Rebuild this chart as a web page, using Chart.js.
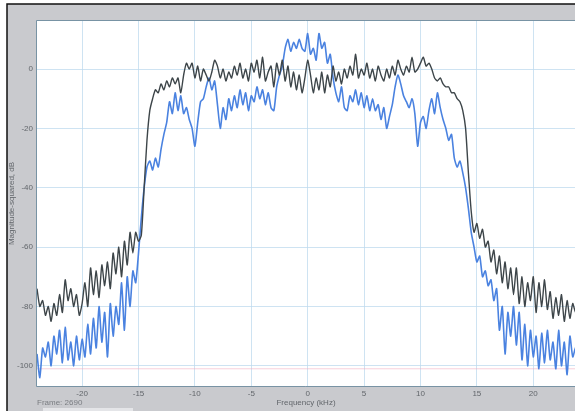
<!DOCTYPE html>
<html>
<head>
<meta charset="utf-8">
<script src="https://cdn.jsdelivr.net/npm/chart.js@4/dist/chart.umd.min.js"></script>
<style>
  html, body { margin: 0; padding: 0; background: #fff; overflow: hidden; }
  #wrap { width: 575px; height: 411px; position: relative; }
</style>
</head>
<body>
<div id="wrap"><canvas id="spec"></canvas></div>
<script>
// frequency grid of the spectrum (kHz)
const freqStart = -24;
const freqStep = 0.25;

// black trace, one row per kHz (k, k+.25, k+.5, k+.75), dB
const blackTrace = [
  -74, -80, -78, -83,
  -80, -85, -79, -83,
  -76, -82, -71, -78,
  -74, -80, -76, -83,
  -79, -72, -80, -67,
  -76, -68, -77, -66,
  -73, -65, -74, -62,
  -69, -60, -70, -58,
  -66, -55, -62, -55,
  -58, -56, -40, -24,
  -14, -10, -7, -8,
  -5, -7, -4, -6,
  -3, -5, -3, -8,
  -2, 2, 0, 2,
  -3, 1, -4, 0,
  -2, -4, -1, 3,
  1, -3, 0, -4,
  -1, -3, 1, -2,
  2, -3, 0, -4,
  2, -1, 3, -3,
  4, -4, -1, 1,
  -6, 2, -2, 3,
  -4, 1, -6, -1,
  -7, -2, -8, -3,
  3, -2, -8, -3,
  -7, -1, -8, -2,
  -6, 1, -4, -1,
  -5, 0, -3, 1,
  -2, 5, -3, 0,
  -2, 2, -3, 0,
  -4, 1, -2, -4,
  0, -3, 1, -2,
  3, 0, -2, 1,
  -1, 4, -1, 0,
  2, 4, 1, 2,
  0, -3, -4, -3,
  -5, -6, -6, -8,
  -8, -10, -11, -14,
  -20, -35, -48, -55,
  -52, -57, -54, -60,
  -58, -65, -61, -69,
  -63, -72, -65, -74,
  -67, -76, -67, -79,
  -70, -80, -72, -78,
  -70, -82, -72, -80,
  -71, -81, -75, -84,
  -77, -83, -76, -85,
  -78, -84, -79, -82,
  -80
];

// blue trace, same grid, dB
const blueTrace = [
  -96, -104, -94, -97,
  -92, -100, -90, -96,
  -88, -99, -87, -98,
  -92, -100, -90, -98,
  -91, -97, -86, -96,
  -84, -94, -80, -92,
  -82, -97, -79, -90,
  -80, -86, -72, -88,
  -70, -80, -68, -72,
  -62, -50, -40, -33,
  -31, -34, -30, -33,
  -27, -22, -18, -11,
  -15, -8, -14, -9,
  -15, -13, -17, -20,
  -26, -18, -11, -10,
  -6, -3, -7, -4,
  -12, -20, -13, -17,
  -10, -14, -9, -13,
  -7, -12, -8, -14,
  -9, -11, -6, -10,
  -7, -12, -8, -13,
  -14, -6, -2, 1,
  7, 10, 6, 9,
  7, 10, 7, 6,
  12, 5, 7, 3,
  12, 7, 9, 2,
  5, -3, -8, -11,
  -6, -13, -14, -9,
  -11, -7, -12, -8,
  -13, -9, -14, -10,
  -14, -12, -17, -13,
  -20, -16, -12, -6,
  -2, -5, -9, -11,
  -13, -10, -15, -26,
  -18, -16, -20, -14,
  -10, -15, -8, -13,
  -17, -20, -24, -22,
  -30, -33, -31, -35,
  -40, -47, -55, -60,
  -65, -63, -70, -68,
  -73, -71, -78, -74,
  -88, -80, -96, -82,
  -90, -80, -93, -82,
  -98, -86, -100, -88,
  -97, -90, -101, -89,
  -99, -88, -98, -92,
  -101, -88, -100, -92,
  -103, -90, -97, -94,
  -104
];

// faint limit line
const limitLevel = -101;

const xTicks = [-20, -15, -10, -5, 0, 5, 10, 15, 20];
const yTicks = [0, -20, -40, -60, -80, -100];
const frameLabel = 'Frame: 2690';

function toPoints(values) {
  return values.map((v, i) => ({ x: freqStart + i * freqStep, y: v }));
}

// gray window frame, white plot area, frame text
const framePlugin = {
  id: 'frame',
  beforeDraw(chart) {
    const { ctx, chartArea: a, width, height } = chart;
    ctx.save();
    ctx.fillStyle = '#ffffff';
    ctx.fillRect(0, 0, width, height);
    ctx.fillStyle = '#c9cace';
    ctx.fillRect(7, 4, width - 7, height - 4);
    ctx.strokeStyle = '#111';
    ctx.lineWidth = 1.5;
    ctx.beginPath();
    ctx.moveTo(7, height);
    ctx.lineTo(7, 4);
    ctx.lineTo(width, 4);
    ctx.stroke();
    ctx.fillStyle = '#ffffff';
    ctx.fillRect(a.left, a.top, a.right - a.left, a.bottom - a.top);
    // slider strip under the frame label
    ctx.fillStyle = '#e4e5e8';
    ctx.fillRect(43, 408, 90, 3);
    ctx.fillStyle = '#7a7d82';
    ctx.font = '8px "Liberation Sans", Arial, sans-serif';
    ctx.textBaseline = 'middle';
    ctx.fillText(frameLabel, 37, 403);
    ctx.restore();
  },
  afterDraw(chart) {
    const { ctx, chartArea: a } = chart;
    ctx.save();
    ctx.strokeStyle = '#7893a4';
    ctx.lineWidth = 1;
    ctx.beginPath();
    ctx.moveTo(a.right, a.top - 0.5);
    ctx.lineTo(a.left - 0.5, a.top - 0.5);
    ctx.lineTo(a.left - 0.5, a.bottom + 0.5);
    ctx.lineTo(a.right, a.bottom + 0.5);
    ctx.stroke();
    ctx.restore();
  }
};

const tickFont = { family: '"Liberation Sans", Arial, sans-serif', size: 8 };
const gridColor = 'rgba(190, 218, 238, 0.75)';

new Chart(document.getElementById('spec'), {
  type: 'line',
  data: {
    datasets: [
      {
        label: 'black',
        data: toPoints(blackTrace),
        borderColor: '#3d4549',
        borderWidth: 1.4,
        pointRadius: 0,
        tension: 0.2
      },
      {
        label: 'blue',
        data: toPoints(blueTrace),
        borderColor: '#4a82e0',
        borderWidth: 1.6,
        pointRadius: 0,
        tension: 0.2
      },
      {
        label: 'limit',
        data: [{ x: -24, y: limitLevel }, { x: 24, y: limitLevel }],
        borderColor: 'rgba(240, 170, 190, 0.55)',
        borderWidth: 1,
        pointRadius: 0
      }
    ]
  },
  options: {
    responsive: true,
    maintainAspectRatio: false,
    animation: false,
    layout: { padding: { top: 21, right: 0, left: 0, bottom: 0 } },
    plugins: {
      legend: { display: false },
      tooltip: { enabled: false }
    },
    scales: {
      x: {
        type: 'linear',
        min: -24,
        max: 23.7,
        afterBuildTicks: (s) => { s.ticks = xTicks.map(v => ({ value: v })); },
        afterFit: (s) => { s.height = 25; },
        grid: { color: gridColor, drawTicks: false },
        border: { display: false },
        ticks: { font: tickFont, color: '#62666b', padding: 3, maxRotation: 0 },
        title: {
          display: true,
          text: 'Frequency (kHz)',
          font: tickFont,
          color: '#62666b',
          padding: { top: 0, bottom: 3 }
        }
      },
      y: {
        type: 'linear',
        min: -106.8,
        max: 16.2,
        afterBuildTicks: (s) => { s.ticks = yTicks.map(v => ({ value: v })); },
        afterFit: (s) => { s.width = 37; },
        grid: { color: gridColor, drawTicks: false },
        border: { display: false },
        ticks: { font: tickFont, color: '#62666b', padding: 4 },
        title: {
          display: true,
          text: 'Magnitude-squared, dB',
          font: tickFont,
          color: '#62666b',
          padding: { top: 7, bottom: 0 }
        }
      }
    }
  },
  plugins: [framePlugin]
});
</script>
</body>
</html>
